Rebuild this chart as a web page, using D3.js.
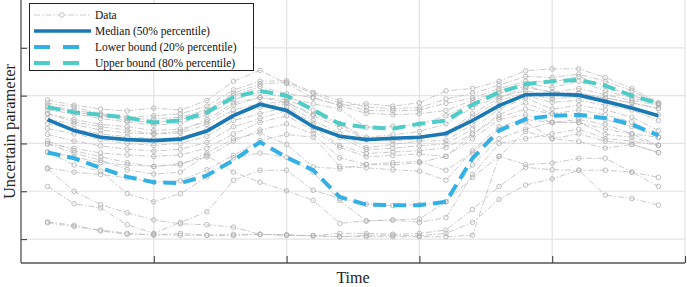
<!DOCTYPE html>
<html><head><meta charset="utf-8">
<script src="https://cdn.jsdelivr.net/npm/d3@7"></script>
<style>body{margin:0;background:#fff}svg{display:block}</style>
</head><body>
<script>
const times = d3.range(1, 25);
const xTicks = [5, 10, 15, 20, 25];
const yTicks = [0, 1, 2, 3, 4];

const median = [2.50,2.27,2.13,2.08,2.06,2.09,2.26,2.58,2.82,2.69,2.35,2.15,2.08,2.11,2.13,2.21,2.48,2.79,3.02,3.03,3.01,2.88,2.74,2.58];
const lower  = [1.81,1.69,1.49,1.30,1.19,1.17,1.33,1.65,2.03,1.71,1.44,0.88,0.72,0.71,0.71,0.78,1.69,2.27,2.51,2.58,2.60,2.53,2.40,2.17];
const upper  = [2.76,2.65,2.60,2.54,2.44,2.48,2.65,2.97,3.10,3.00,2.70,2.41,2.34,2.31,2.41,2.48,2.81,3.07,3.24,3.30,3.33,3.21,3.00,2.84];

const dataSeries = [
  [2.91,2.80,2.72,2.68,2.74,2.70,2.90,3.30,3.53,3.25,2.95,2.80,2.83,2.78,2.85,3.10,3.15,3.30,3.52,3.56,3.56,3.38,3.15,2.85],
  [2.84,2.76,2.62,2.55,2.58,2.62,2.78,3.12,3.30,3.31,3.07,2.90,2.76,2.73,2.75,2.93,3.05,3.22,3.40,3.38,3.45,3.30,3.10,2.83],
  [2.79,2.70,2.60,2.52,2.51,2.55,2.70,3.05,3.24,3.28,3.04,2.84,2.69,2.68,2.70,2.84,2.95,3.15,3.30,3.28,3.40,3.20,3.00,2.84],
  [2.76,2.66,2.58,2.48,2.44,2.50,2.65,3.00,3.19,3.04,2.96,2.79,2.63,2.60,2.62,2.69,2.90,3.10,3.25,3.17,3.30,3.10,2.95,2.82],
  [2.70,2.62,2.52,2.45,2.38,2.42,2.60,2.92,3.07,2.96,2.83,2.72,2.34,2.36,2.40,2.58,2.85,3.05,3.20,3.07,3.15,3.02,2.90,2.80],
  [2.62,2.50,2.40,2.35,2.27,2.30,2.45,2.80,2.96,2.91,2.69,2.41,2.13,2.18,2.25,2.41,2.75,2.98,3.10,3.00,3.05,2.95,2.85,2.73],
  [2.52,2.40,2.28,2.22,2.20,2.22,2.40,2.70,2.84,2.86,2.58,2.34,2.08,2.10,2.15,2.20,2.55,2.90,3.05,2.93,2.98,2.88,2.76,2.60],
  [2.41,2.30,2.20,2.14,2.10,2.12,2.30,2.62,2.76,2.83,2.48,2.21,1.91,1.98,2.05,2.06,2.40,2.80,3.00,2.86,2.90,2.80,2.70,2.48],
  [2.31,2.20,2.08,2.00,1.96,2.00,2.15,2.48,2.62,2.76,2.41,2.13,1.87,1.90,1.95,1.99,2.30,2.72,2.95,2.72,2.80,2.70,2.55,2.27],
  [2.19,2.05,1.95,1.88,1.84,1.88,2.02,2.35,2.52,2.69,2.34,1.96,1.79,1.82,1.85,1.91,2.20,2.60,2.85,2.62,2.70,2.60,2.45,2.13],
  [1.99,1.90,1.80,1.76,1.73,1.76,1.90,2.20,2.44,2.58,2.27,1.92,1.72,1.75,1.78,1.73,2.10,2.50,2.60,2.44,2.50,2.40,2.20,1.96],
  [1.82,1.72,1.60,1.55,1.52,1.58,1.72,2.05,2.28,2.41,2.20,1.70,1.56,1.60,1.62,1.44,1.80,2.30,2.45,2.10,2.04,1.90,1.98,1.81],
  [1.49,1.40,1.35,1.28,1.19,1.22,1.45,1.75,2.06,2.19,2.13,1.52,1.49,1.45,1.42,1.23,1.85,2.35,2.50,2.44,2.44,2.19,2.13,1.96],
  [1.47,1.00,0.72,0.55,0.40,0.32,0.30,0.25,0.10,0.08,0.07,0.05,0.05,0.05,0.05,0.05,0.08,1.73,2.25,2.10,2.20,2.05,1.98,1.81],
  [1.10,0.74,0.65,0.30,0.12,0.35,0.57,1.23,1.44,1.44,1.02,0.85,0.73,0.70,0.72,0.78,1.29,1.73,1.56,1.59,1.69,1.69,1.40,1.29],
  [0.36,0.29,0.17,0.10,0.10,0.08,0.08,0.10,0.10,0.08,0.07,0.05,0.08,0.08,0.07,0.12,0.35,0.83,1.13,1.26,1.44,0.92,0.85,0.71],
  [0.34,0.26,0.19,0.12,0.08,0.12,0.08,0.07,0.10,0.09,0.07,0.12,0.12,0.10,0.12,0.19,0.62,1.10,1.50,1.45,1.44,1.44,1.40,1.10],
  [1.82,1.55,1.42,0.95,0.78,0.95,1.30,1.70,1.80,1.71,1.40,0.81,0.38,0.40,0.35,0.45,1.35,2.00,2.10,2.20,2.30,2.10,2.05,1.96],
  [2.05,1.85,1.72,1.60,1.52,1.55,1.80,2.10,2.22,1.98,1.51,1.47,1.56,1.55,1.60,1.73,2.20,2.55,2.72,2.62,2.55,2.50,2.35,2.13],
  [1.99,1.80,1.65,1.45,1.36,1.40,1.75,1.40,1.19,1.01,0.81,0.33,0.38,0.40,0.42,0.78,1.55,2.10,2.30,2.44,2.44,2.30,2.20,2.13],
  [2.62,2.45,2.35,2.28,2.20,2.25,2.50,2.85,2.96,2.86,2.61,2.41,2.08,2.05,2.10,2.20,2.62,2.95,3.17,3.07,3.05,2.95,2.85,2.73]
];

const legendLabels = ["Data", "Median (50% percentile)", "Lower bound (20% percentile)", "Upper bound (80% percentile)"];
const xLabel = "Time";
const yLabel = "Uncertain parameter";

const W = 687, H = 287;
const L = 21, R = 685, T = 0, B = 263;
const serif = "'Liberation Serif','DejaVu Serif',serif";

const x = d3.scaleLinear().domain([0, 25]).range([L, R]);
const y = d3.scaleLinear().domain([-0.5, 5]).range([B, T]);

const svg = d3.select("body").append("svg").attr("width", W).attr("height", H);

// grid
const grid = svg.append("g");
grid.selectAll(".gx").data(xTicks).join("line")
  .attr("x1", d => x(d)).attr("x2", d => x(d)).attr("y1", T).attr("y2", B)
  .attr("stroke", "#e3e3e3").attr("stroke-width", 1.2);
grid.selectAll(".gy").data(yTicks).join("line")
  .attr("x1", L).attr("x2", R).attr("y1", d => y(d)).attr("y2", d => y(d))
  .attr("stroke", "#e3e3e3").attr("stroke-width", 1.2);

// data lines
const line = d3.line().x((d, i) => x(times[i])).y(d => y(d));
const dg = svg.append("g");
dataSeries.forEach(s => {
  dg.append("path").attr("d", line(s)).attr("fill", "none")
    .attr("stroke", "#bdbdbd").attr("stroke-width", 0.8).attr("stroke-dasharray", "6,2,1.5,2");
  dg.selectAll(null).data(s).join("circle")
    .attr("cx", (d, i) => x(times[i])).attr("cy", d => y(d)).attr("r", 2.3)
    .attr("fill", "none").attr("stroke", "#b0b0b0").attr("stroke-width", 0.8);
});

svg.append("path").attr("d", line(lower)).attr("fill", "none")
  .attr("stroke", "#33b0e6").attr("stroke-width", 4).attr("stroke-dasharray", "13,7");
svg.append("path").attr("d", line(upper)).attr("fill", "none")
  .attr("stroke", "#4ecdc6").attr("stroke-width", 4).attr("stroke-dasharray", "13,7");
svg.append("path").attr("d", line(median)).attr("fill", "none")
  .attr("stroke", "#1a78b4").attr("stroke-width", 3.6);

// axes
const xAxis = d3.axisBottom(x).tickValues(xTicks).tickSize(-7).tickFormat("");
const yAxis = d3.axisLeft(y).tickValues(yTicks).tickSize(-6).tickFormat("");
const gx = svg.append("g").attr("transform", `translate(0,${B})`).call(xAxis);
const gy = svg.append("g").attr("transform", `translate(${L},0)`).call(yAxis);
[gx, gy].forEach(g => {
  g.select(".domain").attr("stroke", "#555").attr("stroke-width", 1.3);
  g.selectAll(".tick line").attr("stroke", "#444").attr("stroke-width", 1.1);
});
gx.select(".domain").attr("d", `M${L},0H${R}`);
gy.select(".domain").attr("d", `M0,${B}V${T}`);

// labels
svg.append("text").attr("x", (L + R) / 2).attr("y", 283).attr("text-anchor", "middle")
  .attr("font-family", serif).attr("font-size", 16).attr("fill", "#222").text(xLabel);
svg.append("text").attr("transform", `translate(15,${(T + B) / 2}) rotate(-90)`)
  .attr("text-anchor", "middle").attr("font-family", serif).attr("font-size", 16.5)
  .attr("fill", "#222").text(yLabel);

// legend
const lg = svg.append("g");
lg.append("rect").attr("x", 29.5).attr("y", 3.5).attr("width", 224).attr("height", 67)
  .attr("fill", "#fff").attr("stroke", "#222").attr("stroke-width", 1);
const rows = [15, 31, 47, 63];
const styles = [
  {c: "#bdbdbd", w: 0.8, dash: "6,2,1.5,2"},
  {c: "#1a78b4", w: 3.6, dash: null},
  {c: "#33b0e6", w: 4, dash: "16,13"},
  {c: "#4ecdc6", w: 4, dash: "16,13"}
];
legendLabels.forEach((lab, i) => {
  const ln = lg.append("line").attr("x1", 34).attr("x2", 91).attr("y1", rows[i]).attr("y2", rows[i])
    .attr("stroke", styles[i].c).attr("stroke-width", styles[i].w);
  if (styles[i].dash) ln.attr("stroke-dasharray", styles[i].dash);
  if (i === 0) lg.append("circle").attr("cx", 62).attr("cy", rows[i]).attr("r", 2.3)
    .attr("fill", "#fff").attr("stroke", "#b5b5b5").attr("stroke-width", 0.8);
  lg.append("text").attr("x", 95).attr("y", rows[i] + 4).attr("font-family", serif)
    .attr("font-size", 11.5).attr("fill", "#111").text(lab);
});
</script>
</body></html>
